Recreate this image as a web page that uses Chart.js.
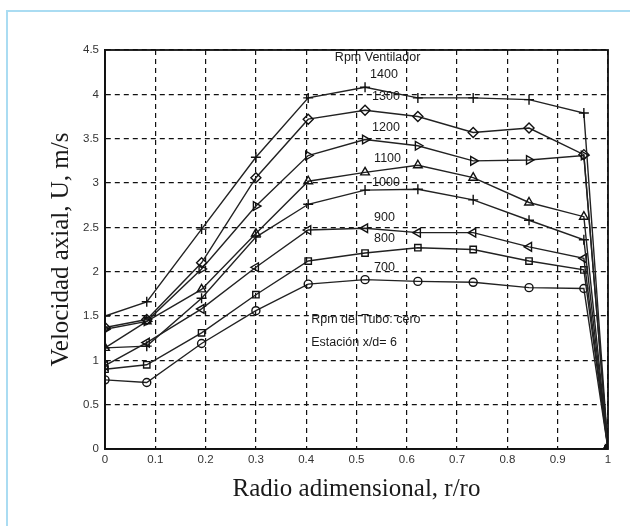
<!DOCTYPE html>
<html>
<head>
<meta charset="utf-8">
<script src="https://cdn.jsdelivr.net/npm/chart.js@4.4.1/dist/chart.umd.min.js"></script>
<style>
  html, body { margin: 0; padding: 0; background: #fff; width: 630px; height: 526px; overflow: hidden; }
  #frame { position: absolute; left: 6px; top: 10px; width: 700px; height: 600px;
           border-top: 2px solid #aadcf2; border-left: 2px solid #aadcf2; }
  #c { position: absolute; left: 0; top: 0; }
</style>
</head>
<body>
<div id="frame"></div>
<canvas id="c" width="630" height="526"></canvas>
<script>
// ---- data ----
const radius  = [0, 0.083, 0.192, 0.30, 0.404, 0.517, 0.622, 0.732, 0.843, 0.952, 1.0];
const rpm1400 = [1.50, 1.66, 2.48, 3.29, 3.96, 4.08, 3.96, 3.96, 3.94, 3.79, 0];
const rpm1300 = [1.37, 1.46, 2.10, 3.06, 3.72, 3.82, 3.75, 3.57, 3.62, 3.32, 0];
const rpm1200 = [1.35, 1.44, 2.03, 2.74, 3.31, 3.49, 3.42, 3.25, 3.26, 3.31, 0];
const rpm1100 = [1.14, 1.44, 1.80, 2.43, 3.02, 3.12, 3.20, 3.06, 2.78, 2.62, 0];
const rpm1000 = [1.14, 1.16, 1.70, 2.39, 2.76, 2.92, 2.93, 2.81, 2.58, 2.36, 0];
const rpm900  = [0.94, 1.20, 1.58, 2.05, 2.47, 2.49, 2.44, 2.44, 2.28, 2.15, 0];
const rpm800  = [0.90, 0.95, 1.31, 1.74, 2.12, 2.21, 2.27, 2.25, 2.12, 2.02, 0];
const rpm700  = [0.78, 0.75, 1.19, 1.56, 1.86, 1.91, 1.89, 1.88, 1.82, 1.81, 0];

const seriesNames = ['1400', '1300', '1200', '1100', '1000', '900', '800', '700'];
const seriesValues = [rpm1400, rpm1300, rpm1200, rpm1100, rpm1000, rpm900, rpm800, rpm700];

const xTickValues = [0, 0.1, 0.2, 0.3, 0.4, 0.5, 0.6, 0.7, 0.8, 0.9, 1];
const yTickValues = [0, 0.5, 1, 1.5, 2, 2.5, 3, 3.5, 4, 4.5];

const xTitle = 'Radio adimensional, r/ro';
const yTitle = 'Velocidad axial, U, m/s';

// in-plot annotation texts and their anchor points (data coordinates)
const noteTexts = ['Rpm Ventilador', '1400', '1300', '1200', '1100', '1000', '900', '800', '700',
                   'Rpm del Tubo: cero', 'Estación x/d= 6'];
const noteX = [0.457, 0.527, 0.531, 0.531, 0.535, 0.531, 0.535, 0.535, 0.535, 0.41, 0.41];
const noteY = [4.42, 4.22, 3.97, 3.62, 3.28, 3.01, 2.61, 2.37, 2.05, 1.46, 1.20];

// ---- styles ----
const markerStyles = ['cross', 'rectRot', 'triangle', 'triangle', 'cross', 'triangle', 'rect', 'circle'];
const markerRot    = [0, 0, 90, 0, 0, -90, 0, 0];
const markerRadius = [5, 5, 5, 5, 5, 5, 4.5, 4];

const datasets = seriesNames.map((name, i) => ({
  label: name,
  data: radius.map((r, j) => ({ x: r, y: seriesValues[i][j] })),
  borderColor: '#222',
  borderWidth: 1.4,
  pointStyle: markerStyles[i],
  pointRotation: markerRot[i],
  pointRadius: markerRadius[i],
  pointBorderColor: '#111',
  pointBorderWidth: 1.4,
  pointBackgroundColor: 'rgba(0,0,0,0)',
  tension: 0,
  fill: false
}));

const framePlugin = {
  id: 'frameAndNotes',
  afterDatasetsDraw(chart) {
    const { ctx, chartArea: a, scales } = chart;
    ctx.save();
    ctx.strokeStyle = '#111';
    ctx.lineWidth = 1.8;
    ctx.setLineDash([]);
    ctx.strokeRect(a.left, a.top, a.right - a.left, a.bottom - a.top);
    ctx.fillStyle = '#1a1a1a';
    ctx.font = '12.5px "Liberation Sans", Arial, sans-serif';
    ctx.textAlign = 'left';
    ctx.textBaseline = 'middle';
    noteTexts.forEach((t, i) => {
      ctx.fillText(t, scales.x.getPixelForValue(noteX[i]), scales.y.getPixelForValue(noteY[i]));
    });
    ctx.restore();
  }
};

new Chart(document.getElementById('c'), {
  type: 'line',
  data: { datasets },
  options: {
    responsive: false,
    animation: false,
    devicePixelRatio: 1,
    layout: { padding: { left: 42, top: 50, right: 22, bottom: 18 } },
    plugins: { legend: { display: false }, tooltip: { enabled: false } },
    scales: {
      x: {
        type: 'linear',
        min: 0, max: 1,
        afterFit: s => { s.height = 59; },
        afterBuildTicks: s => { s.ticks = xTickValues.map(v => ({ value: v })); },
        ticks: {
          color: '#333',
          font: { family: '"Liberation Sans", Arial, sans-serif', size: 11.5 },
          padding: 4,
          maxRotation: 0,
          autoSkip: false,
          callback: v => String(v)
        },
        grid: { color: '#111', lineWidth: 1.2, drawTicks: false },
        border: { display: true, color: '#111', width: 1.8, dash: [5, 4] },
        title: {
          display: true, text: xTitle, color: '#1a1a1a',
          font: { family: '"Liberation Serif", "Times New Roman", serif', size: 25 },
          padding: { top: 4, bottom: 4 }
        }
      },
      y: {
        type: 'linear',
        min: 0, max: 4.5,
        afterFit: s => { s.width = 63; },
        afterBuildTicks: s => { s.ticks = yTickValues.map(v => ({ value: v })); },
        ticks: {
          color: '#333',
          font: { family: '"Liberation Sans", Arial, sans-serif', size: 11.5 },
          padding: 6,
          autoSkip: false,
          callback: v => String(v)
        },
        grid: { color: '#111', lineWidth: 1.2, drawTicks: false },
        border: { display: true, color: '#111', width: 1.8, dash: [5, 4] },
        title: {
          display: true, text: yTitle, color: '#1a1a1a',
          font: { family: '"Liberation Serif", "Times New Roman", serif', size: 25 },
          padding: { top: 4, bottom: 4 }
        }
      }
    }
  },
  plugins: [framePlugin]
});
</script>
</body>
</html>
